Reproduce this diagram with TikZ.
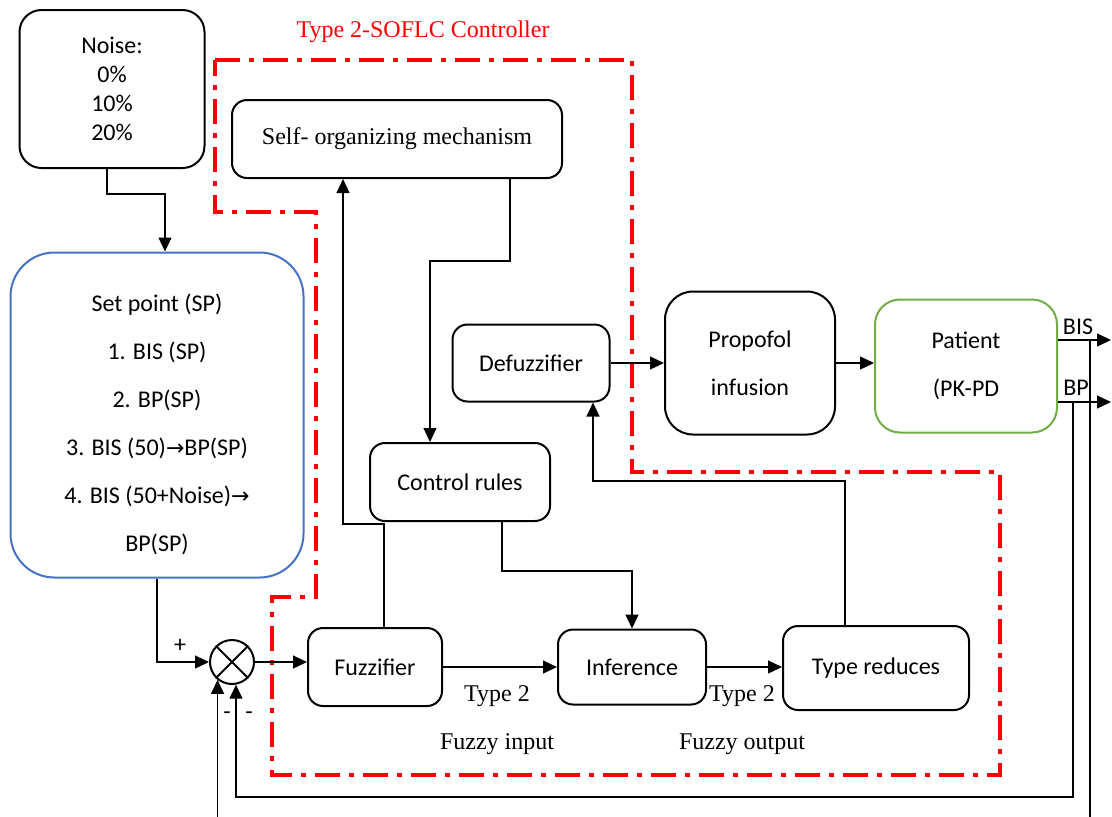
\documentclass[tikz,border=0pt]{standalone}
\usepackage{fontspec}
\setmainfont{Liberation Serif}
\setsansfont{Carlito}
\newfontfamily\arrowfont{DejaVu Sans}
\usetikzlibrary{arrows.meta,positioning,calc}
\definecolor{spcol}{RGB}{68,114,196}
\definecolor{patcol}{RGB}{112,173,71}
\newcommand{\rarrow}{{\arrowfont\fontsize{11}{14}\selectfont →}}

\begin{document}
\begin{tikzpicture}[x=0.5pt, y=-0.5pt,
    blk/.style={draw, line width=1pt, rounded corners=7.5pt, align=center, inner sep=0pt,
        font=\sffamily\fontsize{12}{14}\selectfont},
    serifblk/.style={blk, font=\rmfamily\fontsize{12}{14}\selectfont},
    wire/.style={line width=0.6pt},
    arr/.style={wire, -{Triangle[length=7pt, width=6.5pt]}},
    lbl/.style={font=\rmfamily\fontsize{12}{14}\selectfont},
    slbl/.style={font=\sffamily\fontsize{12}{14}\selectfont},
    ctrl/.style={red, line width=2pt, dash pattern=on 12.5pt off 4.5pt on 2.5pt off 4.5pt},
]
\clip (0,0) rectangle (1112,816);

% controller boundary
\draw[ctrl] (215,60) -- (632,60) -- (632,472) -- (1000,472) -- (1000,775) -- (272,775)
    -- (272,597) -- (316,597) -- (316,212) -- (215,212) -- cycle;
\node[lbl, text=red] (title) at (423,32) {Type 2-SOFLC Controller};

% blocks
\node[blk, rounded corners=11pt, minimum width=92.5pt, minimum height=79pt,
    font=\sffamily\fontsize{12}{14.5}\selectfont] (noise) at (112,89) {Noise:\\0\%\\10\%\\20\%};
\node[blk, draw=spcol, rounded corners=22pt, minimum width=146.5pt, minimum height=162.5pt] (setpoint) at (157,415) {};
\node[slbl, align=center, font=\sffamily\fontsize{12}{24}\selectfont] (sptext) at (157,424)
    {Set point (SP)\\1. BIS (SP)\\2. BP(SP)\\3. BIS (50)\rarrow BP(SP)\\4. BIS (50+Noise)\rarrow\\BP(SP)};
\node[serifblk, minimum width=165pt, minimum height=39pt] (som) at (397,139) {Self- organizing mechanism};
\node[blk, minimum width=78.5pt, minimum height=38.5pt] (defuzz) at (531,363) {Defuzzifier};
\node[blk, rounded corners=14pt, minimum width=85pt, minimum height=71.5pt,
    font=\sffamily\fontsize{12}{24}\selectfont] (propofol) at (750,363) {Propofol\\infusion};
\node[blk, draw=patcol, rounded corners=12.5pt, minimum width=91pt, minimum height=66.5pt,
    font=\sffamily\fontsize{12}{24}\selectfont] (patient) at (966,366) {Patient\\(PK-PD};
\node[blk, minimum width=90pt, minimum height=39pt] (rules) at (460,482) {Control rules};
\node[blk, minimum width=67pt, minimum height=39pt] (fuzz) at (375,667) {Fuzzifier};
\node[blk, minimum width=74pt, minimum height=37.5pt] (infer) at (632,667) {Inference};
\node[blk, minimum width=93pt, minimum height=42pt] (typered) at (876,668) {Type reduces};

% summing junction
\node[circle, draw, line width=1pt, minimum size=22pt, inner sep=0pt] (sum) at (232,662) {};
\draw[line width=1pt] (sum.north west) -- (sum.south east) (sum.north east) -- (sum.south west);

% connectors
\draw[arr] ([xshift=-2.5pt]noise.south) -- ++(0,25) -| ([xshift=4pt]setpoint.north);
\draw[arr] (setpoint.south) |- (sum.west);
\draw[arr] (sum.east) -- (sum.east -| fuzz.west);
\draw[arr] (fuzz.east) -- (fuzz.east -| infer.west);
\draw[arr] (infer.east) -- (infer.east -| typered.west);
\draw[arr] ([xshift=4.5pt]fuzz.north) -- ++(0,-103) -| ([xshift=-27pt]som.south);
\draw[arr] ([xshift=56.5pt]som.south) -- ++(0,82) -| ([xshift=-15pt]rules.north);
\draw[arr] ([xshift=21pt]rules.south) -- ++(0,49) -| (infer.north);
\draw[arr] ([xshift=-15.5pt]typered.north) -- ++(0,-144) -| ([xshift=31pt]defuzz.south);
\draw[arr] (defuzz.east) -- (defuzz.east -| propofol.west);
\draw[arr] (propofol.east) -- (propofol.east -| patient.west);

% outputs and feedback
\coordinate (bisout) at (1111,340);
\coordinate (bpout) at (1111,402);
\draw[arr] ([yshift=13pt]patient.east) -- (bisout);
\draw[arr] ([yshift=-18pt]patient.east) -- (bpout);
\node[slbl] (bis) at (1078,327) {BIS};
\node[slbl] (bp) at (1076,388) {BP};
\draw[arr] (1090,340) -- (1090,840) -| (sum.-129);
\draw[arr] (1073,402) -- (1073,797) -| (sum.-80);

% labels
\node[slbl] (plus) at (180,646) {+};
\node[slbl] (minusa) at (227,716) {-};
\node[slbl] (minusb) at (249,716) {-};
\node[lbl] (t2in) at (497,696) {Type 2};
\node[lbl] (fin) at (497,744) {Fuzzy input};
\node[lbl] (t2out) at (742,696) {Type 2};
\node[lbl] (fout) at (742,744) {Fuzzy output};
\end{tikzpicture}
\end{document}
